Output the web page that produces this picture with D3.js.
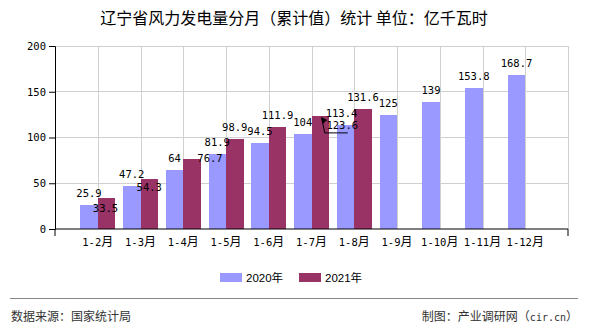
<!DOCTYPE html>
<html><head><meta charset="utf-8">
<script src="https://cdn.jsdelivr.net/npm/d3@7"></script>
<style>body{margin:0;background:#fff}</style>
</head><body><svg id="c" width="590" height="330"></svg>
<script>
const categories = ["1-2月","1-3月","1-4月","1-5月","1-6月","1-7月","1-8月","1-9月","1-10月","1-11月","1-12月"];
const values2020 = [25.9,47.2,64,81.9,94.5,104,113.4,125,139,153.8,168.7];
const values2021 = [33.5,54.3,76.7,98.9,111.9,123.6,131.6];
const seriesNames = ["2020年","2021年"];
const yTicks = [0,50,100,150,200];
const titleText = "辽宁省风力发电量分月（累计值）统计 单位：亿千瓦时";
const sourceText = "数据来源：国家统计局";
const creditParts = ["制图：产业调研网（","cir.cn","）"];

const colors = ["#9999ff","#993366"];
const svg = d3.select("#c");
svg.append("rect").attr("width",590).attr("height",330).attr("fill","#fff");

const L=55, R=568, T=46, B=229;
const x = d3.scaleBand().domain(categories).range([L,R]).paddingInner(0).paddingOuter(0.5);
const cx = c => x(c) + x.bandwidth()/2;
const xs = d3.scaleBand().domain(seriesNames).range([-17.5,17.5]);
const y = d3.scaleLinear().domain([0,200]).range([B,T]);

const grid = svg.append("g").attr("stroke","#d0d0d0").attr("stroke-width",1).attr("shape-rendering","crispEdges");
yTicks.filter(v=>v>0).forEach(v=>grid.append("line").attr("x1",L).attr("x2",R).attr("y1",y(v)).attr("y2",y(v)));
categories.forEach(c=>grid.append("line").attr("x1",Math.round(cx(c))+0.5).attr("x2",Math.round(cx(c))+0.5).attr("y1",T).attr("y2",B));
grid.append("line").attr("x1",R).attr("x2",R).attr("y1",T).attr("y2",B);

const data = [values2020, values2021];
data.forEach((vals,si)=>{
  svg.append("g").selectAll("rect").data(vals).join("rect")
    .attr("x",(d,i)=>cx(categories[i])+xs(seriesNames[si]))
    .attr("width",xs.bandwidth())
    .attr("y",d=>y(d)).attr("height",d=>B-y(d))
    .attr("fill",colors[si]).attr("shape-rendering","crispEdges");
});

// axes
const yAxis = d3.axisLeft(y).tickValues(yTicks).tickSize(6).tickPadding(3);
const gy = svg.append("g").attr("transform",`translate(${L},0)`).call(yAxis);
gy.select(".domain").attr("stroke","#000");
gy.selectAll("text").attr("font-family","'DejaVu Sans Mono',monospace").attr("font-size","10.5px").attr("fill","#000");

const xAxis = d3.axisBottom(x).tickSize(0).tickPadding(9).tickFormat("");
const gx = svg.append("g").attr("transform",`translate(0,${B})`).call(xAxis);
gx.select(".domain").attr("stroke","#000").attr("d",`M${L},7V0H${R}V7`);
gx.selectAll(".tick").each(function(c){
  const t = d3.select(this).append("text").attr("y",17).attr("text-anchor","middle").attr("fill","#000");
  const m = c.match(/^(.*?)(月)$/);
  t.append("tspan").attr("font-family","'DejaVu Sans Mono',monospace").attr("font-size","10.5px").text(m[1]);
  t.append("tspan").attr("font-family","'Noto Sans CJK SC'").attr("font-size","12px").text(m[2]);
});

// value labels
const nudge = {"1-0":[-1,22],"1-1":[0,20],"1-2":[18,11.5],"1-5":[22,21],"0-6":[-4,0]};
const lab = svg.append("g").attr("font-family","'DejaVu Sans Mono',monospace").attr("font-size","10.5px").attr("fill","#000").attr("text-anchor","middle");
data.forEach((vals,si)=>{
  vals.forEach((v,i)=>{
    const n = nudge[si+"-"+i] || [0,0];
    const bx = cx(categories[i])+xs(seriesNames[si])+xs.bandwidth()/2;
    const tx = bx+n[0], ty = y(v)-8+n[1];
    lab.append("text").attr("x",tx).attr("y",ty).text(v);
    if(si===1 && i===5){
      const w = 35;
      svg.append("path").attr("d",`M${tx+w/2-12},${ty+4}H${tx-w/2+0}L${bx+1.5},${y(v)+2}`).attr("fill","none").attr("stroke","#000").attr("stroke-width",1);
      svg.append("path").attr("d",`M${bx+1},${y(v)+1}l1,7l5,-4z`).attr("fill","#000");
    }
  });
});

// title
svg.append("text").attr("x",294).attr("y",24).attr("text-anchor","middle")
  .attr("font-family","'Noto Sans CJK SC'").attr("font-size","16px").attr("font-weight","normal").attr("fill","#000").text(titleText);

// legend
const lg = svg.append("g").attr("font-family","'Liberation Sans','Noto Sans CJK SC'").attr("font-size","11.5px").attr("fill","#000");
const lx = [220,299];
seriesNames.forEach((s,i)=>{
  lg.append("rect").attr("x",lx[i]).attr("y",273).attr("width",22).attr("height",9).attr("fill",colors[i]);
  lg.append("text").attr("x",lx[i]+26).attr("y",281.5).text(s);
});

// footer
svg.append("line").attr("x1",10).attr("x2",578).attr("y1",298.5).attr("y2",298.5).attr("stroke","#888").attr("stroke-width",1);
svg.append("text").attr("x",11).attr("y",321).attr("font-family","'Noto Sans CJK SC'").attr("font-size","12px").attr("fill","#333").text(sourceText);
const cr = svg.append("text").attr("x",578).attr("y",321).attr("text-anchor","end").attr("font-family","'Noto Sans CJK SC'").attr("font-size","12px").attr("fill","#333");
cr.append("tspan").text(creditParts[0]);
cr.append("tspan").attr("font-family","'DejaVu Sans Mono',monospace").attr("font-size","10px").text(creditParts[1]);
cr.append("tspan").text(creditParts[2]);
</script></body></html>
